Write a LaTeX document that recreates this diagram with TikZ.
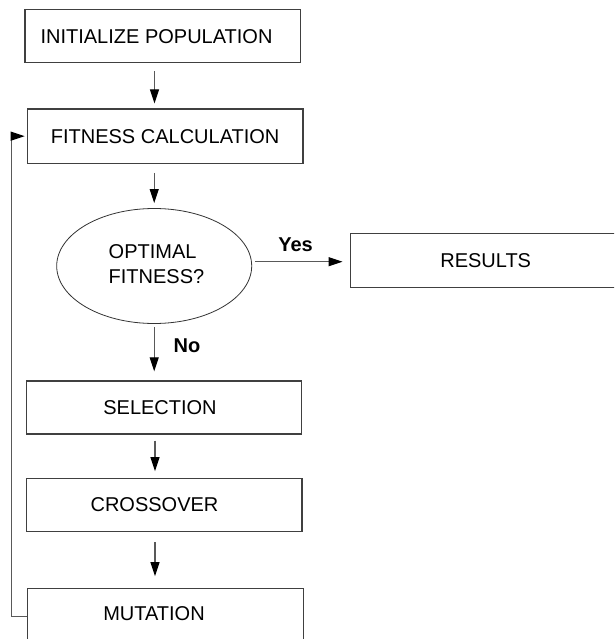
\documentclass[tikz,border=0pt]{standalone}
\usepackage{fontspec}
\setmainfont{Liberation Sans}
\usetikzlibrary{arrows.meta,shapes.geometric}
\begin{document}
\begin{tikzpicture}[x=1pt,y=-1pt,
  txt/.style={font=\fontsize{20}{23}\selectfont,inner sep=0pt},
  stepbox/.style={draw=black!75,line width=1.3pt,rectangle,inner sep=0pt,txt},
  arr/.style={draw=black!65,line width=1.1pt,-{Triangle[length=14pt,width=9pt,color=black]}},
  lbl/.style={font=\fontsize{20}{23}\selectfont\bfseries,inner sep=0pt}]
\path[use as bounding box] (0,0) rectangle (614,639);
\clip (0,0) rectangle (614,639);
\fill[white] (0,0) rectangle (614,639);
% boxes
\node[stepbox,minimum width=275.7pt,minimum height=53.4pt] (init) at (162.85,36) {};
\node[txt] (initt) at (156.5,37) {INITIALIZE POPULATION};
\node[stepbox,minimum width=275.7pt,minimum height=54.3pt] (fit) at (165.15,136.15) {FITNESS CALCULATION};
\node[draw=black!80,line width=0.8pt,ellipse,minimum width=195pt,minimum height=115pt,inner sep=0pt] (ell) at (154.2,266) {};
\node[align=left,inner sep=0pt,font=\fontsize{20}{25}\selectfont] (ellt) at (156.5,264) {OPTIMAL\\FITNESS?};
\node[stepbox,minimum width=270pt,minimum height=54.4pt] (res) at (485.7,260.5) {RESULTS};
\node[stepbox,minimum width=275pt,minimum height=53pt] (sel) at (164.2,407.5) {};
\node[txt] (selt) at (160,408) {SELECTION};
\node[stepbox,minimum width=275.3pt,minimum height=53.4pt] (cro) at (164.35,505) {};
\node[txt] (crot) at (154.5,505) {CROSSOVER};
\node[stepbox,minimum width=275.6pt,minimum height=56.8pt] (mut) at (165.5,616.7) {};
\node[txt] (mutt) at (154,614) {MUTATION};
% connectors
\draw[arr,shorten <=8pt,shorten >=5pt] (init.south -| 154.5,0) -- (fit.north -| 154.5,0);
\draw[arr,shorten <=9pt,shorten >=5pt] (fit.south -| ell.north) -- (ell.north);
\draw[arr,shorten <=3pt,shorten >=7.5pt] (ell.east |- 0,261.7) -- (res.west |- 0,261.7);
\draw[arr,shorten <=3pt,shorten >=9pt] (ell.south) -- (sel.north -| ell.south);
\draw[arr,shorten <=6pt,shorten >=6.5pt] (sel.south -| 155,0) -- (cro.north -| 155,0);
\draw[arr,shorten <=10pt,shorten >=11.5pt] (cro.south -| 155,0) -- (mut.north -| 155,0);
\draw[arr,shorten >=2pt] (mut.west) -- ++(-16,0) |- (fit.west);
% labels
\node[lbl] (yes) at (295.5,245) {Yes};
\node[lbl] (no) at (187,345.5) {No};
\end{tikzpicture}
\end{document}
